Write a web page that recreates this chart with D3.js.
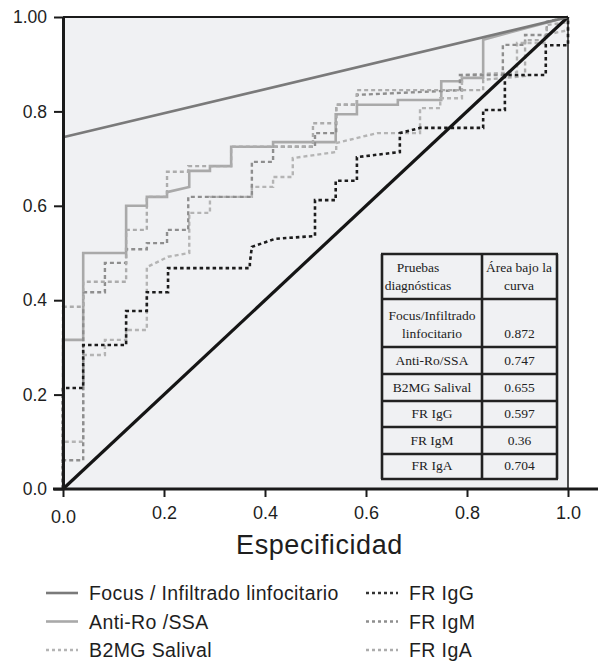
<!DOCTYPE html>
<html>
<head>
<meta charset="utf-8">
<script src="https://cdn.jsdelivr.net/npm/d3@7"></script>
<style>
  body { margin: 0; background: #fff; }
  svg text { font-family: "Liberation Sans", Arial, Helvetica, sans-serif; fill: #1e1e1e; }
  .tbl text { font-family: "Liberation Serif", "Times New Roman", serif; font-size: 13.5px; fill: #222; }
</style>
</head>
<body>
<svg id="chart" width="598" height="663"></svg>
<script>
/******************************** Data ********************************/
// ROC points, 1-specificity (fpr) and sensitivity (tpr)
var focusFpr = [0, 1];
var focusTpr = [0.745, 1];

var antiRoFpr = [0, 0, 0.04, 0.04, 0.125, 0.125, 0.166, 0.166, 0.206, 0.206, 0.25, 0.25, 0.291, 0.291, 0.333, 0.333, 0.416, 0.416, 0.54, 0.54, 0.582, 0.582, 0.663, 0.663, 0.749, 0.749, 0.79, 0.79, 0.832, 0.832, 1];
var antiRoTpr = [0, 0.316, 0.316, 0.5, 0.5, 0.6, 0.6, 0.619, 0.619, 0.629, 0.64, 0.674, 0.674, 0.684, 0.684, 0.725, 0.725, 0.735, 0.735, 0.794, 0.794, 0.814, 0.814, 0.824, 0.824, 0.864, 0.864, 0.871, 0.871, 0.952, 1];

var b2mgFpr = [0, 0, 0.04, 0.04, 0.083, 0.083, 0.125, 0.125, 0.166, 0.166, 0.208, 0.25, 0.25, 0.291, 0.291, 0.374, 0.374, 0.416, 0.416, 0.455, 0.455, 0.541, 0.541, 0.622, 0.707, 0.707, 0.747, 0.747, 0.79, 0.79, 0.899, 0.899, 0.954, 0.954, 1, 1];
var b2mgTpr = [0, 0.1, 0.1, 0.284, 0.284, 0.316, 0.316, 0.337, 0.337, 0.47, 0.492, 0.5, 0.585, 0.585, 0.619, 0.619, 0.64, 0.64, 0.661, 0.661, 0.701, 0.714, 0.733, 0.754, 0.754, 0.807, 0.807, 0.828, 0.828, 0.877, 0.883, 0.945, 0.945, 0.962, 0.972, 1];

var igGFpr = [0, 0, 0.04, 0.04, 0.125, 0.125, 0.166, 0.166, 0.208, 0.208, 0.37, 0.37, 0.374, 0.42, 0.499, 0.499, 0.54, 0.54, 0.582, 0.582, 0.667, 0.667, 0.707, 0.832, 0.832, 0.875, 0.875, 0.956, 0.956, 1, 1];
var igGTpr = [0, 0.214, 0.214, 0.305, 0.305, 0.377, 0.377, 0.417, 0.417, 0.468, 0.468, 0.479, 0.513, 0.53, 0.536, 0.612, 0.612, 0.653, 0.653, 0.703, 0.714, 0.754, 0.765, 0.765, 0.803, 0.803, 0.877, 0.877, 0.94, 0.94, 1];

var igMFpr = [0, 0, 0.04, 0.04, 0.083, 0.083, 0.125, 0.125, 0.166, 0.166, 0.206, 0.206, 0.248, 0.248, 0.374, 0.374, 0.416, 0.416, 0.499, 0.499, 0.541, 0.541, 0.582, 0.582, 0.786, 0.786, 0.871, 0.871, 0.915, 0.915, 0.958, 0.958, 1];
var igMTpr = [0, 0.061, 0.061, 0.417, 0.417, 0.479, 0.479, 0.508, 0.508, 0.521, 0.521, 0.549, 0.549, 0.619, 0.619, 0.693, 0.693, 0.725, 0.725, 0.754, 0.754, 0.814, 0.814, 0.835, 0.845, 0.877, 0.877, 0.941, 0.941, 0.962, 0.962, 0.99, 1];

var igAFpr = [0, 0, 0.04, 0.04, 0.125, 0.125, 0.166, 0.166, 0.206, 0.206, 0.248, 0.248, 0.333, 0.333, 0.495, 0.495, 0.541, 0.541, 0.582, 0.582, 0.832, 0.832, 0.915, 0.915, 0.958, 0.958, 1, 1];
var igATpr = [0, 0.386, 0.386, 0.439, 0.439, 0.549, 0.549, 0.619, 0.619, 0.672, 0.672, 0.684, 0.684, 0.725, 0.725, 0.775, 0.775, 0.814, 0.814, 0.845, 0.845, 0.867, 0.875, 0.951, 0.951, 0.983, 0.989, 1];

var refFpr = [0, 1];
var refTpr = [0, 1];

var yTicks = [0, 0.2, 0.4, 0.6, 0.8, 1];
var yTickLabels = ["0.0", "0.2", "0.4", "0.6", "0.8", "1.00"];
var xTicks = [0, 0.2, 0.4, 0.6, 0.8, 1];
var xTickLabels = ["0.0", "0.2", "0.4", "0.6", "0.8", "1.0"];
var xTitle = "Especificidad";

var tableHead = [["Pruebas", "diagnósticas"], ["Área bajo la", "curva"]];
var tableTests = [["Focus/Infiltrado", "linfocitario"], ["Anti-Ro/SSA"], ["B2MG Salival"], ["FR IgG"], ["FR IgM"], ["FR IgA"]];
var tableAuc = ["0.872", "0.747", "0.655", "0.597", "0.36", "0.704"];

var legendLabels = ["Focus / Infiltrado linfocitario", "Anti-Ro /SSA", "B2MG Salival", "FR IgG", "FR IgM", "FR IgA"];

/******************************** Styles ********************************/
var series = [
	{ name: legendLabels[1], fpr: antiRoFpr, tpr: antiRoTpr, color: "#a9a9a9", dash: null, w: 2.6 },
	{ name: legendLabels[2], fpr: b2mgFpr, tpr: b2mgTpr, color: "#b4b4b4", dash: "4,3", w: 2.4 },
	{ name: legendLabels[4], fpr: igMFpr, tpr: igMTpr, color: "#8e8e8e", dash: "4,3", w: 2.4 },
	{ name: legendLabels[5], fpr: igAFpr, tpr: igATpr, color: "#acacac", dash: "4,3", w: 2.4 },
	{ name: legendLabels[3], fpr: igGFpr, tpr: igGTpr, color: "#1c1c1c", dash: "3.5,3", w: 2.6 },
	{ name: "ref", fpr: refFpr, tpr: refTpr, color: "#151515", dash: null, w: 3.2 },
	{ name: legendLabels[0], fpr: focusFpr, tpr: focusTpr, color: "#7a7a7a", dash: null, w: 2.6 }
];

/******************************** Chart ********************************/
var svg = d3.select("#chart");
var x = d3.scaleLinear().domain([0, 1]).range([63, 568]);
var y = d3.scaleLinear().domain([0, 1]).range([489, 17]);

// plot area
svg.append("rect")
	.attr("x", x(0)).attr("y", y(1))
	.attr("width", x(1) - x(0)).attr("height", y(0) - y(1))
	.attr("fill", "#f0f1f3");

var line = d3.line().x(function(d) { return x(d[0]); }).y(function(d) { return y(d[1]); });

svg.append("g").selectAll("path")
	.data(series)
	.join("path")
		.attr("d", function(s) { return line(d3.zip(s.fpr, s.tpr)); })
		.attr("fill", "none")
		.attr("stroke", function(s) { return s.color; })
		.attr("stroke-width", function(s) { return s.w; })
		.attr("stroke-dasharray", function(s) { return s.dash; })
		.attr("stroke-linejoin", "miter");

// frame top / right
svg.append("line").attr("x1", x(0)).attr("x2", x(1)).attr("y1", y(1)).attr("y2", y(1))
	.attr("stroke", "#1a1a1a").attr("stroke-width", 2);
svg.append("line").attr("x1", x(1)).attr("x2", x(1)).attr("y1", y(1)).attr("y2", y(0))
	.attr("stroke", "#1a1a1a").attr("stroke-width", 1.5);

// axes
var yAxis = d3.axisLeft(y).tickValues(yTicks)
	.tickFormat(function(d, i) { return yTickLabels[i]; })
	.tickSize(9).tickPadding(7).tickSizeOuter(0);
var gy = svg.append("g").attr("transform", "translate(" + x(0) + ",0)").call(yAxis);
gy.select(".domain").attr("stroke", "#1a1a1a").attr("stroke-width", 3);
gy.selectAll(".tick line").attr("stroke", "#1a1a1a").attr("stroke-width", 2);
gy.selectAll(".tick text").attr("font-size", 17.5).attr("font-family", null).attr("fill", "#1e1e1e");

var xAxis = d3.axisBottom(x).tickValues(xTicks)
	.tickFormat(function(d, i) { return xTickLabels[i]; })
	.tickSize(8).tickPadding(9).tickSizeOuter(0);
var gx = svg.append("g").attr("transform", "translate(0," + y(0) + ")").call(xAxis);
gx.select(".domain").remove();
gx.append("line").attr("x1", x(0) - 10).attr("x2", 598).attr("y1", 0).attr("y2", 0)
	.attr("stroke", "#1a1a1a").attr("stroke-width", 3);
gx.selectAll(".tick line").attr("stroke", "#1a1a1a").attr("stroke-width", 2);
gx.selectAll(".tick text").attr("font-size", 18).attr("font-family", null).attr("fill", "#1e1e1e")
	.attr("dy", function(d) { return d === 0 ? "0.95em" : "0.71em"; });

svg.append("text")
	.attr("x", (x(0) + x(1)) / 2 + 4).attr("y", 554)
	.attr("text-anchor", "middle")
	.attr("font-size", 27)
	.attr("letter-spacing", 0.6)
	.text(xTitle);

/******************************** Table ********************************/
var tbl = svg.append("g").attr("class", "tbl");
var tLeft = 382, tMid = 482, tRight = 557;
var rowEdges = [254, 299, 347, 374, 401, 427, 454, 479];

rowEdges.forEach(function(ry) {
	tbl.append("line").attr("x1", tLeft - 1).attr("x2", tRight + 1).attr("y1", ry).attr("y2", ry)
		.attr("stroke", "#222").attr("stroke-width", 2.6);
});
[tLeft, tMid, tRight].forEach(function(cx) {
	tbl.append("line").attr("x1", cx).attr("x2", cx).attr("y1", rowEdges[0]).attr("y2", rowEdges[rowEdges.length - 1])
		.attr("stroke", "#222").attr("stroke-width", 2.6);
});

// header
tbl.append("text").attr("x", 418).attr("y", 272).attr("text-anchor", "middle").text(tableHead[0][0]);
tbl.append("text").attr("x", 418).attr("y", 290).attr("text-anchor", "middle").text(tableHead[0][1]);
tbl.append("text").attr("x", 519).attr("y", 272).attr("text-anchor", "middle").text(tableHead[1][0]);
tbl.append("text").attr("x", 519).attr("y", 290).attr("text-anchor", "middle").text(tableHead[1][1]);

tableTests.forEach(function(lines, i) {
	var bottom = rowEdges[i + 2];
	var base = bottom - 9;
	lines.forEach(function(t, j) {
		tbl.append("text").attr("x", (tLeft + tMid) / 2)
			.attr("y", base - (lines.length - 1 - j) * 18)
			.attr("text-anchor", "middle").text(t);
	});
	tbl.append("text").attr("x", (tMid + tRight) / 2).attr("y", base)
		.attr("text-anchor", "middle").text(tableAuc[i]);
});

/******************************** Legend ********************************/
var legendOrder = [
	{ s: series[6], col: 0, row: 0 },
	{ s: series[0], col: 0, row: 1 },
	{ s: series[1], col: 0, row: 2 },
	{ s: series[4], col: 1, row: 0 },
	{ s: series[2], col: 1, row: 1 },
	{ s: series[3], col: 1, row: 2 }
];
var lg = svg.append("g");
legendOrder.forEach(function(o) {
	var lx = o.col === 0 ? 46 : 366;
	var ly = 593 + o.row * 28.5;
	lg.append("line").attr("x1", lx).attr("x2", lx + 32).attr("y1", ly).attr("y2", ly)
		.attr("stroke", o.s.color === "#1c1c1c" ? "#333" : o.s.color)
		.attr("stroke-width", 2.6)
		.attr("stroke-dasharray", o.s.dash ? "3,3" : null);
	lg.append("text").attr("x", lx + 43).attr("y", ly + 7)
		.attr("font-size", 19.5)
		.attr("letter-spacing", 0.4)
		.text(o.s.name);
});
</script>
</body>
</html>
